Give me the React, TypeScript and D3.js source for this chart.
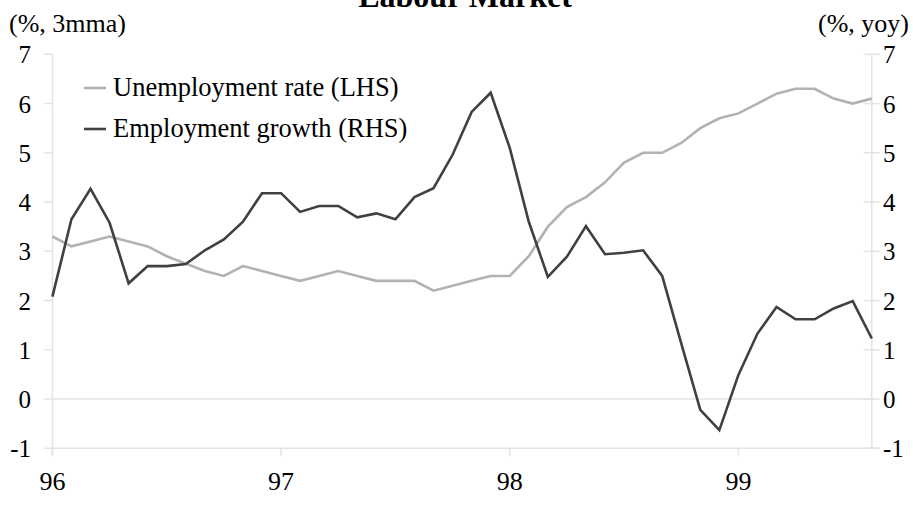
import React from "react";
import * as d3 from "d3";

const months: string[] = [];
const startYear = 1996;
for (let i = 0; i < 44; i++) {
  const y = startYear + Math.floor(i / 12);
  const m = (i % 12) + 1;
  months.push(`${y}-${String(m).padStart(2, "0")}`);
}

const unemployment = [
  3.3, 3.1, 3.2, 3.3, 3.2, 3.1, 2.9, 2.75, 2.6, 2.5, 2.7, 2.6,
  2.5, 2.4, 2.5, 2.6, 2.5, 2.4, 2.4, 2.4, 2.2, 2.3, 2.4, 2.5,
  2.5, 2.9, 3.5, 3.9, 4.1, 4.4, 4.8, 5.0, 5.0, 5.2, 5.5, 5.7,
  5.8, 6.0, 6.2, 6.3, 6.3, 6.1, 6.0, 6.1,
];

const employment = [
  2.08, 3.65, 4.27, 3.58, 2.35, 2.7, 2.7, 2.74, 3.02, 3.24, 3.6, 4.18,
  4.18, 3.8, 3.92, 3.92, 3.69, 3.77, 3.65, 4.1, 4.28, 4.96, 5.83, 6.22,
  5.1, 3.6, 2.48, 2.89, 3.51, 2.94, 2.97, 3.02, 2.5, 1.13, -0.22, -0.63,
  0.49, 1.33, 1.87, 1.62, 1.62, 1.84, 1.99, 1.23,
];

const yTicks = [-1, 0, 1, 2, 3, 4, 5, 6, 7];
const xTickLabels = ["96", "97", "98", "99"];
const xTickIndex = [0, 12, 24, 36];

const legendLabels = ["Unemployment rate (LHS)", "Employment growth (RHS)"];
const title = "Labour Market";

export default function App() {
  const W = 913;
  const H = 505;
  const left = 52.4;
  const right = 871.8;
  const top = 54.3;
  const bottom = 448.3;

  const x = d3.scaleLinear().domain([0, 43]).range([left, right]);
  const yL = d3.scaleLinear().domain([-1, 7]).range([bottom, top]);
  const yR = d3.scaleLinear().domain([-1, 7]).range([bottom, top]);

  const lineL = d3
    .line<number>()
    .x((_, i) => x(i))
    .y((d) => yL(d));
  const lineR = d3
    .line<number>()
    .x((_, i) => x(i))
    .y((d) => yR(d));

  const axisColor = "#e3e3e3";
  const font = "'Liberation Serif', 'Times New Roman', serif";
  const grayLine = "#b2b2b2";
  const darkLine = "#404040";
  const tickFont = 25;

  return (
    <svg
      width={W}
      height={H}
      style={{ position: "absolute", left: 0, top: 0, display: "block" }}
      fontFamily={font}
    >
      <rect width={W} height={H} fill="#fff" />
      <text x={465} y={7} textAnchor="middle" fontSize={32} fontWeight="bold" fill="#000">
        {title}
      </text>
      <text x={9} y={32} fontSize={26} fill="#000">(%, 3mma)</text>
      <text x={909} y={32} fontSize={26} textAnchor="end" fill="#000">(%, yoy)</text>

      {/* zero line */}
      <line x1={left} x2={right} y1={yL(0)} y2={yL(0)} stroke={axisColor} strokeWidth={1.5} />
      {/* axes */}
      <line x1={left} x2={left} y1={top} y2={bottom + 8} stroke={axisColor} strokeWidth={1.5} />
      <line x1={right} x2={right} y1={top} y2={bottom} stroke={axisColor} strokeWidth={1.5} />
      <line x1={left} x2={right + 8} y1={bottom} y2={bottom} stroke={axisColor} strokeWidth={1.5} />

      {yTicks.map((t) => (
        <g key={`l${t}`}>
          <line x1={left - 8} x2={left} y1={yL(t)} y2={yL(t)} stroke={axisColor} strokeWidth={1.5} />
          <text x={31} y={yL(t) + 9} textAnchor="end" fontSize={tickFont} fill="#000">
            {t}
          </text>
        </g>
      ))}
      {yTicks.map((t) => (
        <g key={`r${t}`}>
          <line x1={right - 8} x2={right + 8} y1={yR(t)} y2={yR(t)} stroke={axisColor} strokeWidth={1.5} />
          <text x={883} y={yR(t) + 9} textAnchor="start" fontSize={tickFont} fill="#000">
            {t}
          </text>
        </g>
      ))}
      {xTickIndex.map((ix, k) => (
        <g key={`x${ix}`}>
          <line x1={x(ix)} x2={x(ix)} y1={bottom} y2={bottom + 8} stroke={axisColor} strokeWidth={1.5} />
          <text x={x(ix)} y={490} textAnchor="middle" fontSize={26} fill="#000">
            {xTickLabels[k]}
          </text>
        </g>
      ))}

      <path d={lineL(unemployment) || ""} fill="none" stroke={grayLine} strokeWidth={2.6} strokeLinejoin="miter" />
      <path d={lineR(employment) || ""} fill="none" stroke={darkLine} strokeWidth={2.6} strokeLinejoin="miter" />

      {/* legend */}
      <line x1={84} x2={106} y1={88} y2={88} stroke={grayLine} strokeWidth={2.6} />
      <text x={113} y={96} fontSize={26.5} fill="#000">{legendLabels[0]}</text>
      <line x1={84} x2={106} y1={129} y2={129} stroke={darkLine} strokeWidth={2.6} />
      <text x={113} y={137} fontSize={26.5} fill="#000">{legendLabels[1]}</text>
    </svg>
  );
}
